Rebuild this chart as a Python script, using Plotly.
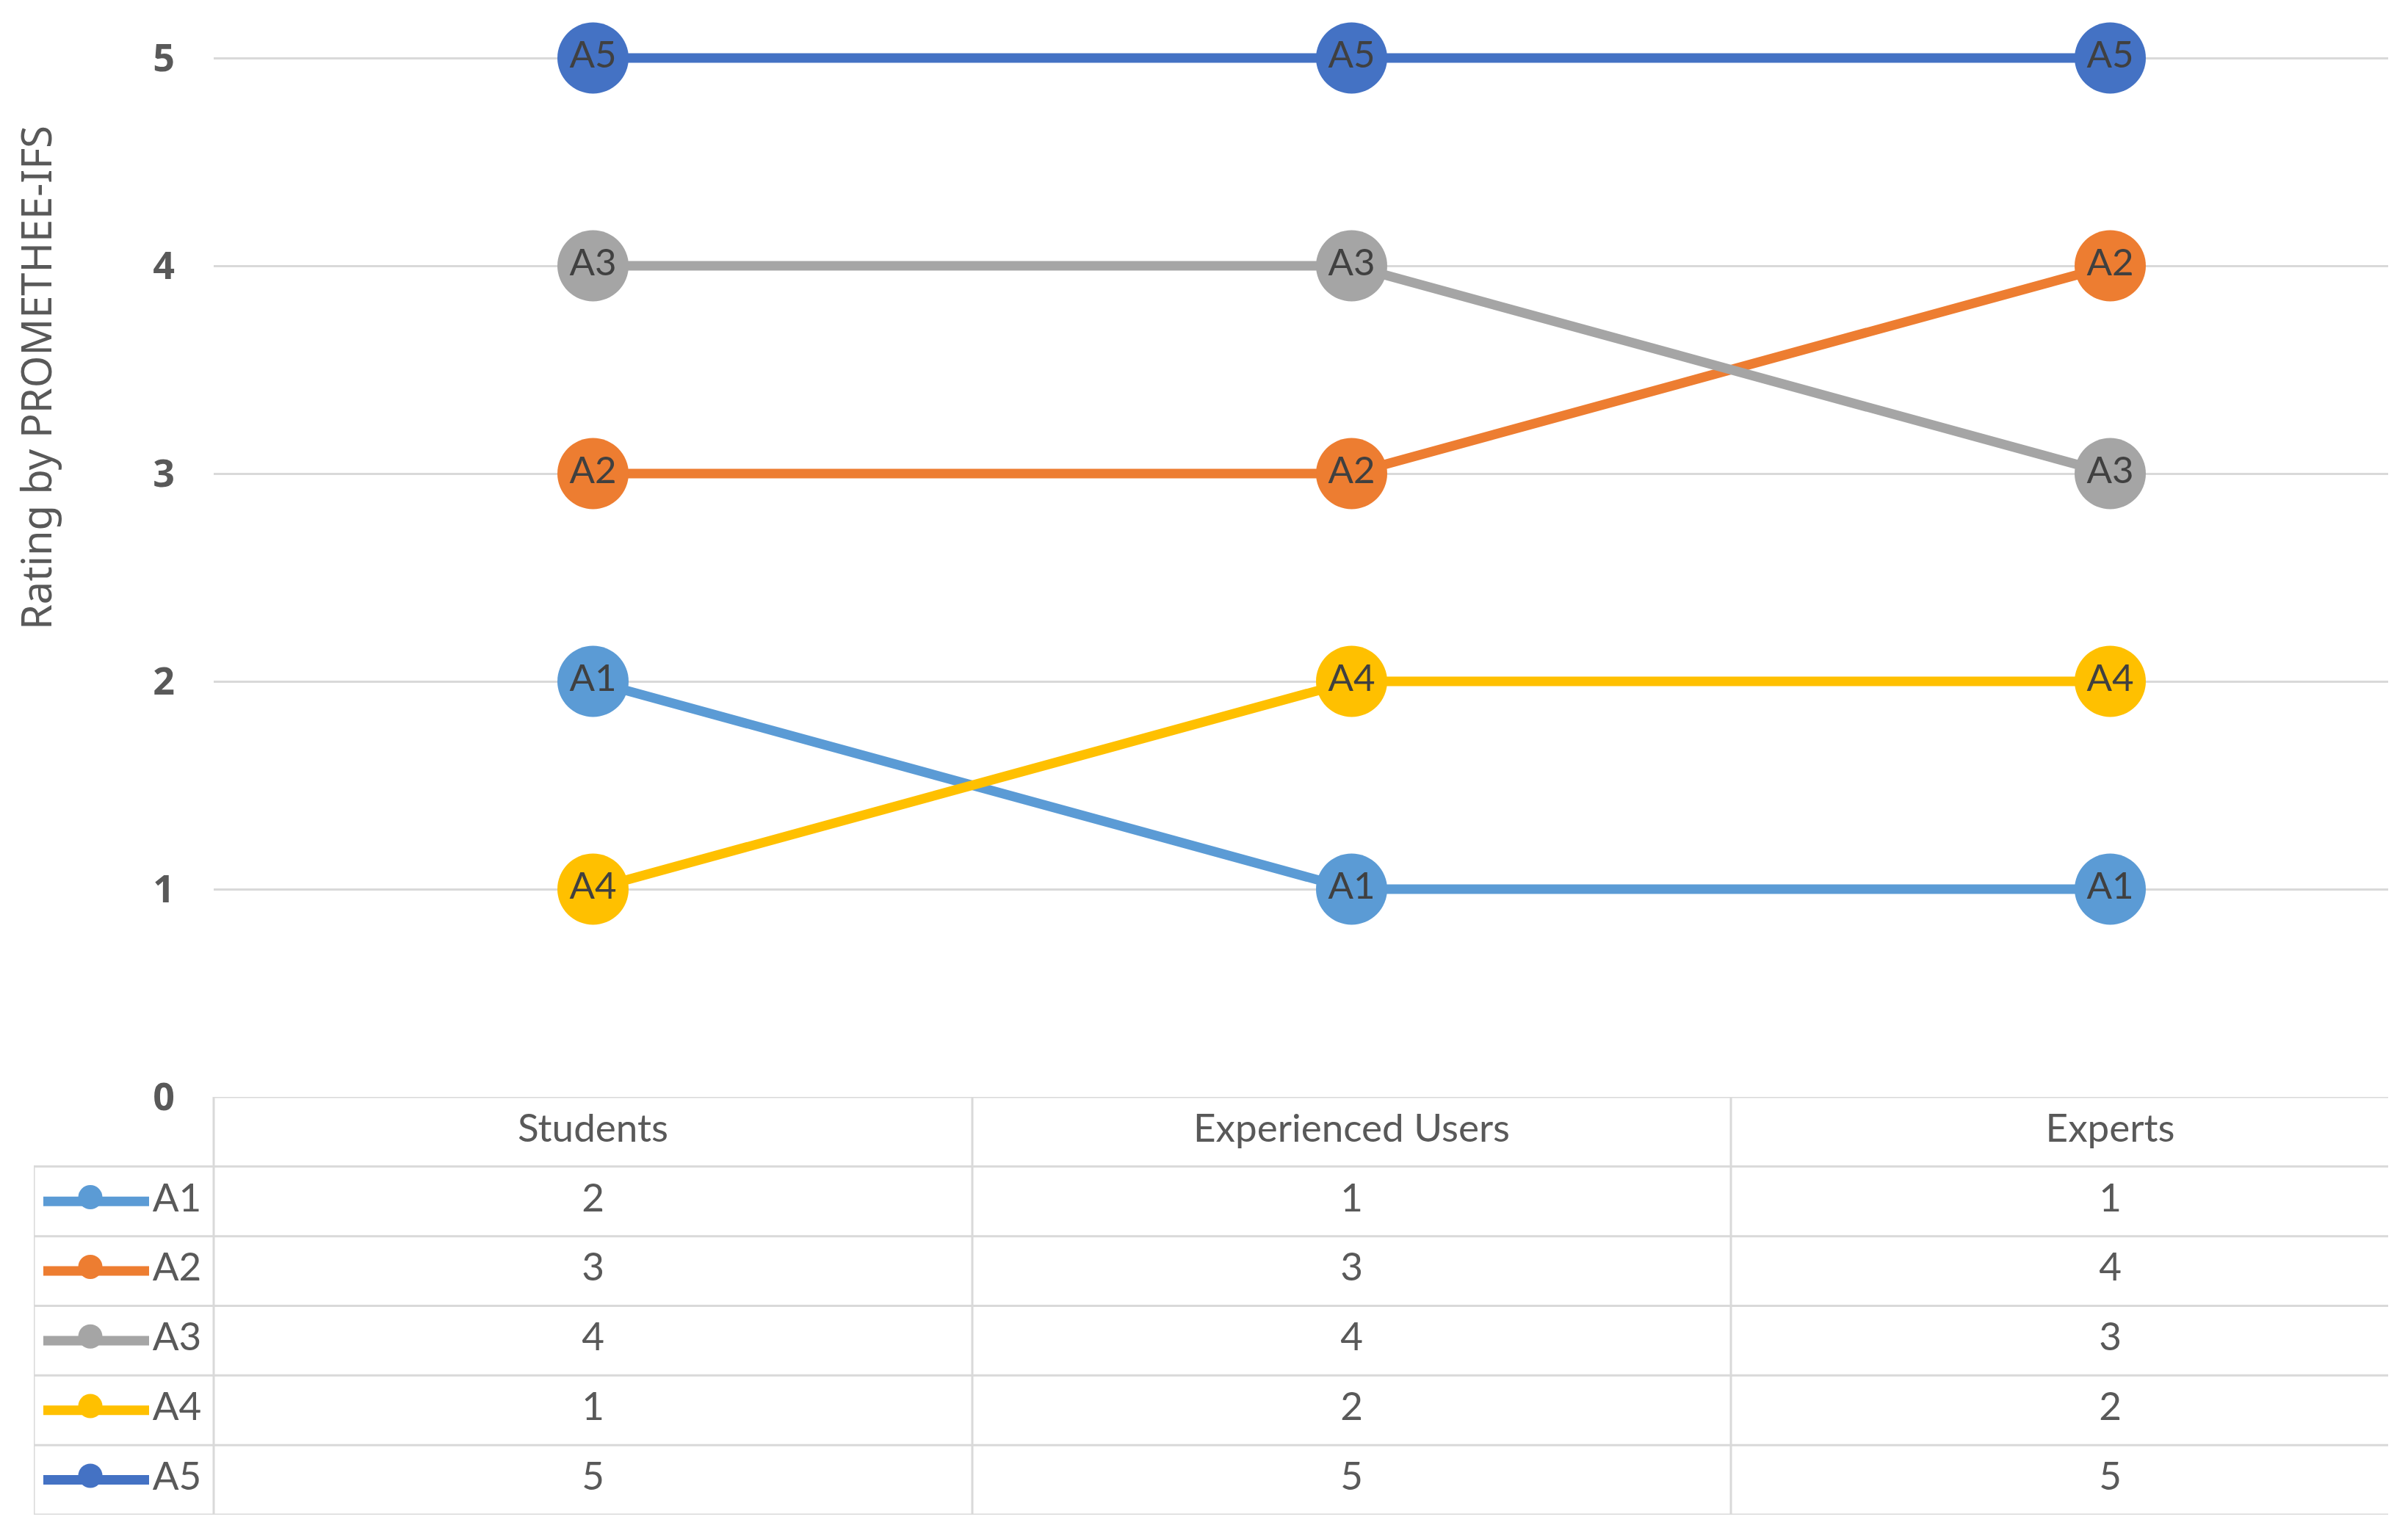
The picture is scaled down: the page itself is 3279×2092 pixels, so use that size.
import plotly.graph_objects as go

# ---------------- data ----------------
categories = ["Students", "Experienced Users", "Experts"]
series_names = ["A1", "A2", "A3", "A4", "A5"]
a1 = [2, 1, 1]
a2 = [3, 3, 4]
a3 = [4, 4, 3]
a4 = [1, 2, 2]
a5 = [5, 5, 5]
series_values = [a1, a2, a3, a4, a5]
y_tick_values = [0, 1, 2, 3, 4, 5]
y_title = "Rating by PROMETHEE-IFS"
colors = ["#5B9BD5", "#ED7D31", "#A5A5A5", "#FFC000", "#4472C4"]

# ---------------- layout geometry (pixels) ----------------
W, H = 3279, 2092
PLOT_L, PLOT_R = 291, 3252          # left/right of plot area
Y_TOP_PX, Y_ZERO_PX = 79, 1494      # pixel rows of y=5 and y=0
TABLE_BOTTOM_PX = 2063
LEG_L = 46                          # left edge of the legend column
COL_W = 1033                        # width of one category column

x_idx = list(range(len(categories)))
x_max = -0.5 + (PLOT_R - PLOT_L) / COL_W
x2_min = -0.5 - (PLOT_L - LEG_L) / COL_W
px_per_unit = (Y_ZERO_PX - Y_TOP_PX) / 5.0
y_max = 5 + Y_TOP_PX / px_per_unit   # axis extends to the top edge of the page

def px2x2(px):
    return x2_min + (px - LEG_L) / COL_W

n_rows = len(series_names) + 1      # header + series rows
GRID = "#d9d9d9"
TXT = "#595959"
TABLE_FONT = "Lato"

fig = go.Figure()

# ---------------- main chart lines ----------------
for name, vals, col in zip(series_names, series_values, colors):
    fig.add_trace(go.Scatter(
        x=x_idx, y=vals, mode="lines+markers+text",
        text=[name] * len(vals), textposition="middle center",
        textfont=dict(family=TABLE_FONT, size=51, color="#404040"),
        line=dict(color=col, width=13),
        marker=dict(color=col, size=97, line=dict(width=0)),
        cliponaxis=False, showlegend=False, hoverinfo="skip",
        xaxis="x", yaxis="y"))

# ---------------- data table (text through x2/y2 axes) ----------------
fig.add_trace(go.Scatter(
    x=x_idx, y=[n_rows - 0.5] * len(categories), mode="text",
    text=categories, textposition="middle center",
    textfont=dict(family=TABLE_FONT, size=53, color=TXT),
    showlegend=False, hoverinfo="skip", xaxis="x2", yaxis="y2"))

for i, (name, vals, col) in enumerate(zip(series_names, series_values, colors)):
    yrow = len(series_names) - i - 0.5
    fig.add_trace(go.Scatter(
        x=x_idx, y=[yrow] * len(vals), mode="text",
        text=[str(v) for v in vals], textposition="middle center",
        textfont=dict(family=TABLE_FONT, size=53, color=TXT),
        showlegend=False, hoverinfo="skip", xaxis="x2", yaxis="y2"))
    # legend key: line + dot
    fig.add_trace(go.Scatter(
        x=[px2x2(59), px2x2(203)], y=[yrow, yrow], mode="lines",
        line=dict(color=col, width=13),
        showlegend=False, hoverinfo="skip", xaxis="x2", yaxis="y2"))
    fig.add_trace(go.Scatter(
        x=[px2x2(123)], y=[yrow + 0.06], mode="markers",
        marker=dict(color=col, size=33),
        showlegend=False, hoverinfo="skip", xaxis="x2", yaxis="y2"))
    fig.add_trace(go.Scatter(
        x=[px2x2(241)], y=[yrow], mode="text",
        text=[name], textposition="middle center",
        textfont=dict(family=TABLE_FONT, size=53, color=TXT),
        showlegend=False, hoverinfo="skip", xaxis="x2", yaxis="y2"))

# table borders as shapes on x2/y2
shapes = []
lw = 3
for r in range(n_rows + 1):
    x0 = x2_min if r < n_rows else -0.5
    shapes.append(dict(type="line", xref="x2", yref="y2", x0=x0, x1=x_max,
                       y0=r, y1=r, line=dict(color=GRID, width=lw), layer="below"))
shapes.append(dict(type="line", xref="x2", yref="y2", x0=x2_min, x1=x2_min,
                   y0=-0.05, y1=n_rows - 1, line=dict(color=GRID, width=lw), layer="below"))
for k in range(len(categories)):
    xb = k - 0.5
    if xb > x_max:
        continue
    shapes.append(dict(type="line", xref="x2", yref="y2", x0=xb, x1=xb,
                       y0=-0.05, y1=n_rows, line=dict(color=GRID, width=lw), layer="below"))

annotations = [dict(
    text=y_title, xref="paper", yref="paper",
    x=48 / W, y=(H - 515) / H, xanchor="center", yanchor="middle",
    textangle=-90, showarrow=False,
    font=dict(family="Noto Sans", size=56, color=TXT))]

fig.update_layout(
    template="none",
    width=W, height=H,
    margin=dict(l=0, r=0, t=0, b=0, pad=0, autoexpand=False),
    paper_bgcolor="white", plot_bgcolor="rgba(0,0,0,0)",
    showlegend=False,
    shapes=shapes, annotations=annotations,
    xaxis=dict(domain=[PLOT_L / W, PLOT_R / W], range=[-0.5, x_max],
               showgrid=False, zeroline=False, showticklabels=False,
               showline=False, ticks="", automargin=False, fixedrange=True),
    yaxis=dict(domain=[(H - Y_ZERO_PX) / H, 1.0], range=[0, y_max],
               tickvals=y_tick_values, ticktext=[str(v) for v in y_tick_values],
               showgrid=True, gridcolor=GRID, gridwidth=3,
               zeroline=False, showline=False, ticks="", automargin=False,
               tickfont=dict(family="Noto Sans", size=52, color=TXT, weight="bold"),
               ticklabelstandoff=52, fixedrange=True),
    xaxis2=dict(domain=[LEG_L / W, PLOT_R / W], range=[x2_min, x_max],
                showgrid=False, zeroline=False, showticklabels=False, ticks="",
                showline=False, anchor="y2", automargin=False, fixedrange=True),
    yaxis2=dict(domain=[(H - TABLE_BOTTOM_PX) / H, (H - Y_ZERO_PX) / H],
                range=[0, n_rows], showgrid=False, zeroline=False, ticks="",
                showticklabels=False, showline=False, anchor="x2",
                automargin=False, fixedrange=True),
)

fig.write_html("out.html", config={"displayModeBar": False},
               post_script="document.body.style.margin='0';")
